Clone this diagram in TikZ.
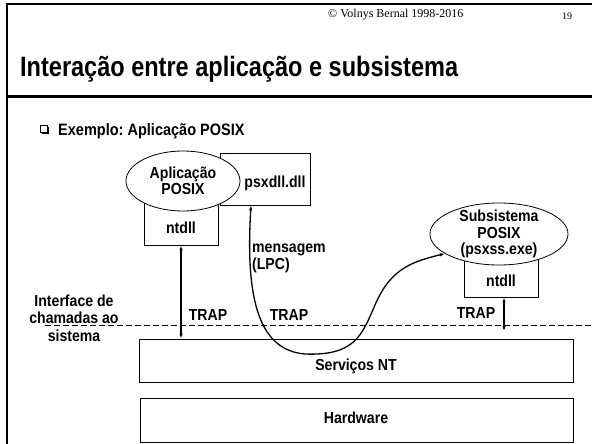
\documentclass[tikz,border=0pt]{standalone}
\usepackage{fontspec}
\setmainfont{Liberation Sans}[FakeStretch=0.88]
\newfontfamily\titlefont{Liberation Sans}[FakeStretch=0.84]
\newfontfamily\crfont{Liberation Serif}
\usetikzlibrary{shapes.geometric,arrows.meta}
\frenchspacing

\begin{document}
\begin{tikzpicture}[x=1pt,y=-1pt,
  lbl/.style={font=\bfseries\fontsize{16}{17}\selectfont,inner sep=0pt,align=center},
  box/.style={draw,line width=0.8pt,inner sep=0pt},
  oval/.style={ellipse,draw,fill=white,line width=0.8pt,inner sep=0pt,
    font=\bfseries\fontsize{16}{16.5}\selectfont,align=center},
  link/.style={line width=1.3pt,{Latex[length=5pt,width=3.5pt]}-{Latex[length=5pt,width=3.5pt]}}]
  \useasboundingbox (0,0) rectangle (592,444);
  % slide frame and heading
  \draw[line width=2pt] (6,4) -- (592,4);
  \draw[line width=2.5pt] (7,3) -- (7,444);
  \draw[line width=3pt] (6,97) -- (592,97);
  \node[anchor=west,inner sep=0pt,font=\crfont\fontsize{12}{14}\selectfont] (copy) at (328,15) {© Volnys Bernal 1998-2016};
  \node[inner sep=0pt,font=\crfont\fontsize{10}{12}\selectfont] (pgno) at (567,16) {19};
  \node[anchor=base west,inner sep=0pt,font=\titlefont\bfseries\fontsize{28}{32}\selectfont] (title) at (20,77) {Interação entre aplicação e subsistema};
  % bullet
  \draw[line width=0.6pt] (40,125) rectangle (47,132);
  \draw[line width=1.2pt] (42,133.5) -- (48.5,133.5) -- (48.5,127);
  \node[anchor=base west,inner sep=0pt,font=\bfseries\fontsize{16.5}{18}\selectfont] (expl) at (58,135.7) {Exemplo: Aplicação POSIX};
  % application side
  \node[box,minimum width=74pt,minimum height=50pt] (ntdlA) at (181,220) {};
  \node[box,minimum width=90pt,minimum height=52pt] (psx) at (265,179) {};
  \node[oval,minimum width=114pt,minimum height=60pt] (appl) at (183,181) {Aplicação\\POSIX};
  \node[lbl] (ntdlAt) at (181,228) {ntdll};
  \node[lbl] (psxt) at (275,183) {psxdll.dll};
  % subsystem side
  \node[box,minimum width=74pt,minimum height=46pt] (ntdlB) at (501,274) {};
  \node[oval,inner sep=-2.5pt,minimum width=138pt,minimum height=62pt] (subs) at (499,234) {Subsistema\\POSIX\\(psxss.exe)};
  \node[lbl] (ntdlBt) at (501,281) {ntdll};
  % layers
  \node[box,minimum width=434pt,minimum height=43pt] (nts) at (356,360.5) {};
  \node[box,minimum width=433pt,minimum height=44pt] (hw) at (356.5,420) {};
  \node[lbl] (ntsT) at (356,366) {Serviços NT};
  \node[lbl] (hwT) at (356,418) {Hardware};
  % system call interface
  \draw[line width=0.8pt,dash pattern=on 6pt off 3pt] (45,325) -- (592,325);
  \node[lbl,font=\bfseries\fontsize{16}{17.5}\selectfont] (iface) at (74,318) {Interface de\\chamadas ao\\sistema};
  \node[lbl] (trapA) at (208,315) {TRAP};
  \node[lbl] (trapB) at (289,315) {TRAP};
  \node[lbl] (trapC) at (476,313) {TRAP};
  \node[lbl,align=left,anchor=west] (msg) at (252,258) {mensagem\\(LPC)};
  % connectors
  \coordinate (trapend) at (504,331);
  \draw[link] (ntdlA.south) -- (ntdlA.south |- nts.north);
  \draw[link] (ntdlB.south -| trapend) -- (trapend);
  \draw[link] ([xshift=-14pt]psx.south) .. controls (246,290) and (255,350) .. (305,354)
    .. controls (355,356) and (362,335) .. (375,305)
    .. controls (390,270) and (410,262) .. (subs.200);
\end{tikzpicture}
\end{document}
